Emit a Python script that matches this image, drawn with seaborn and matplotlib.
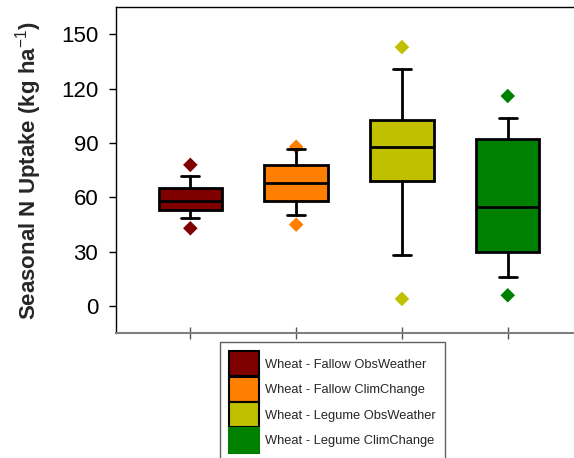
import numpy as np
import pandas as pd
import matplotlib
matplotlib.use("Agg")
import matplotlib.pyplot as plt
import seaborn as sns
from matplotlib.patches import Patch

# values
groups = ["Wheat - Fallow ObsWeather", "Wheat - Fallow ClimChange",
          "Wheat - Legume ObsWeather", "Wheat - Legume ClimChange"]
colors = ["#800000", "#FF8000", "#C0C000", "#008000"]
q1 = [53, 58, 69, 30]
median = [58, 68, 88, 54.5]
q3 = [65, 78, 102.5, 92]
whis_lo = [48.5, 50.5, 28.5, 16]
whis_hi = [72, 86.5, 131, 104]
pct_lo = [43, 45, 4, 6]
pct_hi = [78, 88, 143, 116]


def main():
    sns.set_style("ticks")
    plt.rcParams['font.family'] = ['Liberation Sans', 'DejaVu Sans']
    plt.rcParams['mathtext.fontset'] = 'custom'
    plt.rcParams['mathtext.rm'] = 'Liberation Sans'
    plt.rcParams['mathtext.bf'] = 'Liberation Sans:bold'

    fig = plt.figure(figsize=(5.74, 4.58), dpi=100)
    ax = fig.add_axes([0.2026, 0.2722, 0.811, 0.712])

    # extreme points (diamonds) drawn with seaborn
    pts = pd.DataFrame({
        "group": groups * 2,
        "pos": list(range(len(groups))) * 2,
        "value": pct_lo + pct_hi,
    })
    sns.scatterplot(data=pts, x="pos", y="value", hue="group", palette=colors,
                    hue_order=groups, marker="D", s=55, linewidth=0,
                    legend=False, ax=ax, zorder=1)

    stats = []
    for i, g in enumerate(groups):
        stats.append(dict(label=g, med=median[i], q1=q1[i], q3=q3[i],
                          whislo=whis_lo[i], whishi=whis_hi[i], fliers=[]))
    bp = ax.bxp(stats, positions=range(len(groups)), widths=0.6,
                capwidths=0.17, patch_artist=True, showfliers=False,
                boxprops=dict(linewidth=2, edgecolor="black"),
                whiskerprops=dict(linewidth=2, color="black"),
                capprops=dict(linewidth=2, color="black"),
                medianprops=dict(linewidth=2, color="black"))
    for patch, c in zip(bp["boxes"], colors):
        patch.set_facecolor(c)

    ax.set_xlim(-0.7, 3.7)
    ax.set_ylim(-15, 165)
    ax.set_yticks(range(0, 151, 30))
    ax.set_xticks(range(len(groups)))
    ax.set_xticklabels([])
    ax.set_xlabel("")
    ax.tick_params(axis="y", labelsize=16, length=5, width=1, pad=8,
                   colors="black")
    ax.tick_params(axis="x", direction="inout", length=9, width=1,
                   color="#555555")
    for side in ["left", "top", "right"]:
        ax.spines[side].set_color("black")
        ax.spines[side].set_linewidth(1)
    ax.spines["bottom"].set_color("#808080")
    ax.spines["bottom"].set_linewidth(1.5)
    ax.set_ylabel("Seasonal N Uptake (kg ha$^{\\mathrm{-1}}$)",
                  fontsize=16, fontweight="bold", labelpad=12)

    handles = [Patch(facecolor=c, edgecolor="black" if i < 3 else c,
                     linewidth=1.5) for i, c in enumerate(colors)]
    fig.legend(handles, groups, loc="upper left",
               bbox_to_anchor=(0.383, 0.253), borderaxespad=0,
               fontsize=9.3, frameon=True, fancybox=False, edgecolor="#606060",
               framealpha=1, handlelength=2.3, handleheight=2.6,
               labelspacing=0.05, handletextpad=0.5, borderpad=0.7)

    fig.savefig("out.png", dpi=100)


if __name__ == "__main__":
    main()
